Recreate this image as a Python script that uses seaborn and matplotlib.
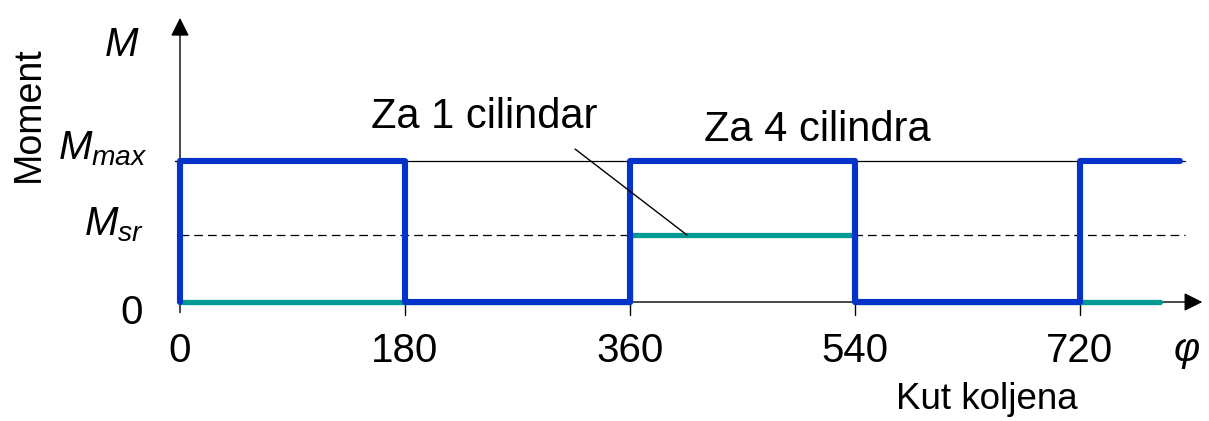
import numpy as np
import pandas as pd
import seaborn as sns
import matplotlib.pyplot as plt

# data
phi_ticks = [0, 180, 360, 540, 720]
M_max = 1.0
M_sr = 0.475

# 4 cylinders (blue) - vertices of the step curve
phi_4 = [0, 0, 180, 180, 360, 360, 540, 540, 720, 720, 800]
m_4 = [0, M_max, M_max, 0, 0, M_max, M_max, 0, 0, M_max, M_max]

# 1 cylinder (teal)
phi_1 = [0, 360, 360, 540, 540, 784]
m_1 = [0, 0, M_sr, M_sr, 0, 0]

sns.set_style('white')
plt.rcParams['font.family'] = ['Liberation Sans', 'DejaVu Sans']
plt.rcParams['text.color'] = 'black'
plt.rcParams['mathtext.fontset'] = 'custom'
plt.rcParams['mathtext.it'] = 'Liberation Sans:italic'
plt.rcParams['mathtext.rm'] = 'Liberation Sans'

fig = plt.figure(figsize=(12.09, 4.21), dpi=100)
ax = fig.add_axes([0, 0, 1, 1])
ax.set_xlim(-144.07, 823.6)
ax.set_ylim(-0.844, 2.142)

# reference lines
ax.plot([0, 804], [M_max, M_max], color='black', lw=0.9, zorder=1)
ax.plot([0, 804], [M_sr, M_sr], color='black', lw=0.9, ls=(0, (7, 4)), zorder=1)

# axes with arrows
ax.annotate('', xy=(820.5, 0), xytext=(0, 0),
            arrowprops=dict(arrowstyle='-|>', color='black', lw=1, mutation_scale=28), zorder=1)
ax.annotate('', xy=(0, 2.035), xytext=(0, -0.095),
            arrowprops=dict(arrowstyle='-|>', color='black', lw=1, mutation_scale=28), zorder=1)
for t in phi_ticks[1:]:
    ax.plot([t, t], [0, -0.095], color='black', lw=1, zorder=1)
ax.plot([-4, 0], [M_max, M_max], color='black', lw=1, zorder=1)

# curves
df1 = pd.DataFrame({'phi': phi_1, 'M': m_1})
df4 = pd.DataFrame({'phi': phi_4, 'M': m_4})
sns.lineplot(data=df1, x='phi', y='M', estimator=None, sort=False,
             color='#009a93', lw=3.8, ax=ax, zorder=2)
sns.lineplot(data=df4, x='phi', y='M', estimator=None, sort=False,
             color='#0533c9', lw=4.4, ax=ax, zorder=3)
ax.axis('off')

# tick labels
for t in phi_ticks:
    ax.text(t, -0.35, str(t), fontsize=29, ha='center', va='center')
ax.text(-38.4, -0.078, '0', fontsize=29, ha='center', va='center')
ax.text(-26, 1.09, r'$M_{max}$', fontsize=29, ha='right', va='center')
ax.text(-29, 0.545, r'$M_{sr}$', fontsize=29, ha='right', va='center')
ax.text(-47.2, 1.82, 'M', fontsize=29, style='italic', ha='center', va='center')
ax.text(806, -0.34, 'φ', fontsize=29, style='italic', ha='center', va='center')

# axis titles
ax.text(-120.9, 1.33, 'Moment', fontsize=27, rotation=90, ha='center', va='center')
ax.text(645.9, -0.695, 'Kut koljena', fontsize=26.5, ha='center', va='center')

# annotations
ax.text(243.3, 1.31, 'Za 1 cilindar', fontsize=30, ha='center', va='center')
ax.plot([316.2, 405.8], [1.085, M_sr], color='black', lw=1, zorder=4)
ax.text(509.8, 1.22, 'Za 4 cilindra', fontsize=30, ha='center', va='center')

fig.savefig('out.png', dpi=100)
